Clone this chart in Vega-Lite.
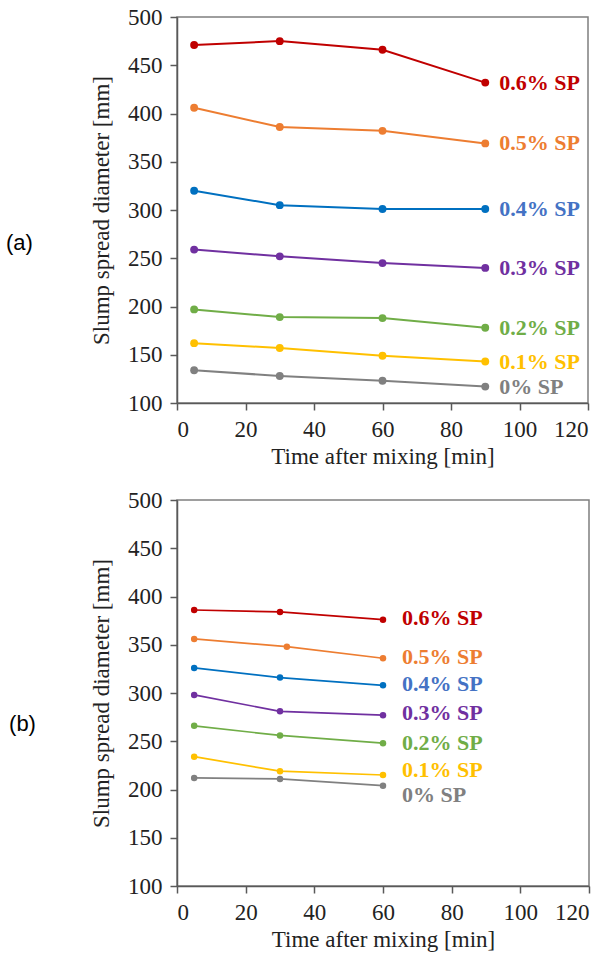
{
  "$schema": "https://vega.github.io/schema/vega-lite/v6.json",
  "background": "white",
  "padding": {"left": 5, "top": 5, "right": 5, "bottom": 5},
  "spacing": 97,
  "bounds": "flush",
  "config": {
    "view": {"stroke": "#7f7f7f", "strokeWidth": 1.5},
    "font": "Liberation Serif",
    "axis": {
      "labelFont": "Liberation Serif", "labelFontSize": 23, "labelColor": "#222222",
      "titleFont": "Liberation Serif", "titleFontSize": 23, "titleFontWeight": "normal", "titleColor": "#222222",
      "grid": false, "domainColor": "#595959", "domainWidth": 1.5,
      "tickColor": "#595959", "tickSize": 7, "tickWidth": 1.5
    }
  },
  "datasets": {
    "a": [
      {"series": "0.6% SP", "t": 5, "d": 471}, {"series": "0.6% SP", "t": 30, "d": 475}, {"series": "0.6% SP", "t": 60, "d": 466}, {"series": "0.6% SP", "t": 90, "d": 432},
      {"series": "0.5% SP", "t": 5, "d": 406}, {"series": "0.5% SP", "t": 30, "d": 386}, {"series": "0.5% SP", "t": 60, "d": 382}, {"series": "0.5% SP", "t": 90, "d": 369},
      {"series": "0.4% SP", "t": 5, "d": 320}, {"series": "0.4% SP", "t": 30, "d": 305}, {"series": "0.4% SP", "t": 60, "d": 301}, {"series": "0.4% SP", "t": 90, "d": 301},
      {"series": "0.3% SP", "t": 5, "d": 259}, {"series": "0.3% SP", "t": 30, "d": 252}, {"series": "0.3% SP", "t": 60, "d": 245}, {"series": "0.3% SP", "t": 90, "d": 240},
      {"series": "0.2% SP", "t": 5, "d": 197}, {"series": "0.2% SP", "t": 30, "d": 189}, {"series": "0.2% SP", "t": 60, "d": 188}, {"series": "0.2% SP", "t": 90, "d": 178},
      {"series": "0.1% SP", "t": 5, "d": 162}, {"series": "0.1% SP", "t": 30, "d": 157}, {"series": "0.1% SP", "t": 60, "d": 149}, {"series": "0.1% SP", "t": 90, "d": 143},
      {"series": "0% SP", "t": 5, "d": 134}, {"series": "0% SP", "t": 30, "d": 128}, {"series": "0% SP", "t": 60, "d": 123}, {"series": "0% SP", "t": 90, "d": 117}
    ],
    "b": [
      {"series": "0.6% SP", "t": 5, "d": 386}, {"series": "0.6% SP", "t": 30, "d": 384}, {"series": "0.6% SP", "t": 60, "d": 376},
      {"series": "0.5% SP", "t": 5, "d": 356}, {"series": "0.5% SP", "t": 32, "d": 348}, {"series": "0.5% SP", "t": 60, "d": 336},
      {"series": "0.4% SP", "t": 5, "d": 326}, {"series": "0.4% SP", "t": 30, "d": 316}, {"series": "0.4% SP", "t": 60, "d": 308},
      {"series": "0.3% SP", "t": 5, "d": 298}, {"series": "0.3% SP", "t": 30, "d": 281}, {"series": "0.3% SP", "t": 60, "d": 277},
      {"series": "0.2% SP", "t": 5, "d": 266}, {"series": "0.2% SP", "t": 30, "d": 256}, {"series": "0.2% SP", "t": 60, "d": 248},
      {"series": "0.1% SP", "t": 5, "d": 234}, {"series": "0.1% SP", "t": 30, "d": 219}, {"series": "0.1% SP", "t": 60, "d": 215},
      {"series": "0% SP", "t": 5, "d": 212}, {"series": "0% SP", "t": 30, "d": 211}, {"series": "0% SP", "t": 60, "d": 204}
    ],
    "bLabels": [
      {"series": "0.6% SP", "t": 60, "d": 378},
      {"series": "0.5% SP", "t": 60, "d": 337},
      {"series": "0.4% SP", "t": 60, "d": 309},
      {"series": "0.3% SP", "t": 60, "d": 279},
      {"series": "0.2% SP", "t": 60, "d": 248},
      {"series": "0.1% SP", "t": 60, "d": 220},
      {"series": "0% SP", "t": 60, "d": 194}
    ]
  },
  "vconcat": [
    {
      "width": 411,
      "height": 386,
      "layer": [
        {
          "data": {"name": "a"},
          "mark": {"type": "line", "strokeWidth": 2},
          "encoding": {
            "x": {"field": "t", "type": "quantitative", "scale": {"domain": [0, 120]},
                  "axis": {"values": [0, 20, 40, 60, 80, 100, 120], "title": "Time after mixing [min]", "labelPadding": 8, "titlePadding": 4}},
            "y": {"field": "d", "type": "quantitative", "scale": {"domain": [100, 500]},
                  "axis": {"values": [100, 150, 200, 250, 300, 350, 400, 450, 500], "title": "Slump spread diameter [mm]", "labelPadding": 8, "titlePadding": 14}},
            "color": {"field": "series", "type": "nominal", "legend": null,
                      "scale": {"domain": ["0.6% SP", "0.5% SP", "0.4% SP", "0.3% SP", "0.2% SP", "0.1% SP", "0% SP"],
                                "range": ["#C00000", "#ED7D31", "#0070C0", "#7030A0", "#70AD47", "#FFC000", "#808080"]}}
          }
        },
        {
          "data": {"name": "a"},
          "mark": {"type": "point", "filled": true, "size": 62, "opacity": 1},
          "encoding": {
            "x": {"field": "t", "type": "quantitative", "scale": {"domain": [0, 120]}},
            "y": {"field": "d", "type": "quantitative", "scale": {"domain": [100, 500]}},
            "color": {"field": "series", "type": "nominal", "legend": null,
                      "scale": {"domain": ["0.6% SP", "0.5% SP", "0.4% SP", "0.3% SP", "0.2% SP", "0.1% SP", "0% SP"],
                                "range": ["#C00000", "#ED7D31", "#0070C0", "#7030A0", "#70AD47", "#FFC000", "#808080"]}}
          }
        },
        {
          "data": {"name": "a"},
          "transform": [{"filter": "datum.t == 90"}],
          "mark": {"type": "text", "align": "left", "baseline": "middle", "dx": 14, "fontWeight": "bold", "fontSize": 22, "font": "Liberation Serif"},
          "encoding": {
            "x": {"field": "t", "type": "quantitative", "scale": {"domain": [0, 120]}},
            "y": {"field": "d", "type": "quantitative", "scale": {"domain": [100, 500]}},
            "text": {"field": "series"},
            "color": {"field": "series", "type": "nominal", "legend": null,
                      "scale": {"domain": ["0.6% SP", "0.5% SP", "0.4% SP", "0.3% SP", "0.2% SP", "0.1% SP", "0% SP"],
                                "range": ["#C00000", "#ED7D31", "#4472C4", "#7030A0", "#70AD47", "#FFC000", "#808080"]}}
          }
        },
        {
          "data": {"values": [{"tag": "(a)"}]},
          "mark": {"type": "text", "font": "Liberation Sans", "fontSize": 22, "color": "#000000", "baseline": "middle"},
          "encoding": {
            "x": {"datum": -46, "type": "quantitative", "scale": {"domain": [0, 120]}},
            "y": {"datum": 266, "type": "quantitative", "scale": {"domain": [100, 500]}},
            "text": {"field": "tag"}
          }
        }
      ],
      "resolve": {"scale": {"color": "independent"}}
    },
    {
      "width": 412,
      "height": 386,
      "layer": [
        {
          "data": {"name": "b"},
          "mark": {"type": "line", "strokeWidth": 1.7},
          "encoding": {
            "x": {"field": "t", "type": "quantitative", "scale": {"domain": [0, 120]},
                  "axis": {"values": [0, 20, 40, 60, 80, 100, 120], "title": "Time after mixing [min]", "labelPadding": 8, "titlePadding": 4}},
            "y": {"field": "d", "type": "quantitative", "scale": {"domain": [100, 500]},
                  "axis": {"values": [100, 150, 200, 250, 300, 350, 400, 450, 500], "title": "Slump spread diameter [mm]", "labelPadding": 8, "titlePadding": 14}},
            "color": {"field": "series", "type": "nominal", "legend": null,
                      "scale": {"domain": ["0.6% SP", "0.5% SP", "0.4% SP", "0.3% SP", "0.2% SP", "0.1% SP", "0% SP"],
                                "range": ["#C00000", "#ED7D31", "#0070C0", "#7030A0", "#70AD47", "#FFC000", "#808080"]}}
          }
        },
        {
          "data": {"name": "b"},
          "mark": {"type": "point", "filled": true, "size": 42, "opacity": 1},
          "encoding": {
            "x": {"field": "t", "type": "quantitative", "scale": {"domain": [0, 120]}},
            "y": {"field": "d", "type": "quantitative", "scale": {"domain": [100, 500]}},
            "color": {"field": "series", "type": "nominal", "legend": null,
                      "scale": {"domain": ["0.6% SP", "0.5% SP", "0.4% SP", "0.3% SP", "0.2% SP", "0.1% SP", "0% SP"],
                                "range": ["#C00000", "#ED7D31", "#0070C0", "#7030A0", "#70AD47", "#FFC000", "#808080"]}}
          }
        },
        {
          "data": {"name": "bLabels"},
          "mark": {"type": "text", "align": "left", "baseline": "middle", "dx": 19, "fontWeight": "bold", "fontSize": 22, "font": "Liberation Serif"},
          "encoding": {
            "x": {"field": "t", "type": "quantitative", "scale": {"domain": [0, 120]}},
            "y": {"field": "d", "type": "quantitative", "scale": {"domain": [100, 500]}},
            "text": {"field": "series"},
            "color": {"field": "series", "type": "nominal", "legend": null,
                      "scale": {"domain": ["0.6% SP", "0.5% SP", "0.4% SP", "0.3% SP", "0.2% SP", "0.1% SP", "0% SP"],
                                "range": ["#C00000", "#ED7D31", "#4472C4", "#7030A0", "#70AD47", "#FFC000", "#808080"]}}
          }
        },
        {
          "data": {"values": [{"tag": "(b)"}]},
          "mark": {"type": "text", "font": "Liberation Sans", "fontSize": 22, "color": "#000000", "baseline": "middle"},
          "encoding": {
            "x": {"datum": -45, "type": "quantitative", "scale": {"domain": [0, 120]}},
            "y": {"datum": 268, "type": "quantitative", "scale": {"domain": [100, 500]}},
            "text": {"field": "tag"}
          }
        }
      ],
      "resolve": {"scale": {"color": "independent"}}
    }
  ]
}
